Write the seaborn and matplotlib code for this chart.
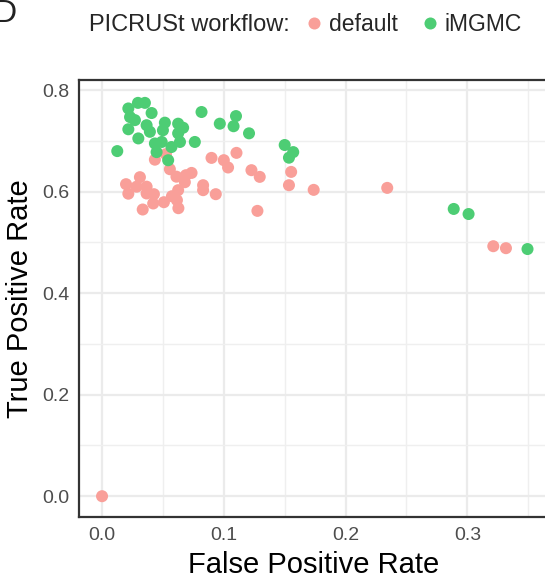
import pandas as pd
import numpy as np
import matplotlib
matplotlib.use('Agg')
import matplotlib.pyplot as plt
from matplotlib.ticker import MultipleLocator
import seaborn as sns

# values
fpr_default = [0.0, 0.0197, 0.0216, 0.0311, 0.0284, 0.0366, 0.0366, 0.0426, 0.0420, 0.0334,
               0.0508, 0.0574, 0.0625, 0.0627, 0.0615, 0.0680, 0.0611, 0.0689, 0.0735, 0.0557,
               0.0434, 0.0525, 0.0830, 0.0830, 0.0934, 0.0899, 0.1000, 0.1035, 0.1104, 0.1227,
               0.1295, 0.1276, 0.1553, 0.1535, 0.1738, 0.2342, 0.3213, 0.3317]
tpr_default = [0.0, 0.6148, 0.5961, 0.6286, 0.6099, 0.6099, 0.5965, 0.5951, 0.5768, 0.5649,
               0.5793, 0.5911, 0.6030, 0.5675, 0.5833, 0.6187, 0.6296, 0.6325, 0.6370, 0.6443,
               0.6631, 0.6739, 0.6128, 0.6030, 0.5951, 0.6666, 0.6621, 0.6477, 0.6765, 0.6424,
               0.6292, 0.5622, 0.6390, 0.6128, 0.6036, 0.6075, 0.4926, 0.4887]
fpr_imgmc = [0.0125, 0.0216, 0.0295, 0.0352, 0.0407, 0.0230, 0.0270, 0.0366, 0.0216, 0.0298,
             0.0393, 0.0516, 0.0500, 0.0490, 0.0625, 0.0666, 0.0625, 0.0640, 0.0570, 0.0448,
             0.0434, 0.0762, 0.0817, 0.0967, 0.1100, 0.1080, 0.1207, 0.0543, 0.1500, 0.1570,
             0.1535, 0.2888, 0.3010, 0.3494]
tpr_imgmc = [0.680, 0.764, 0.775, 0.775, 0.755, 0.747, 0.741, 0.731, 0.723, 0.705,
             0.718, 0.736, 0.721, 0.698, 0.734, 0.726, 0.715, 0.698, 0.688, 0.678,
             0.695, 0.698, 0.757, 0.734, 0.749, 0.729, 0.715, 0.662, 0.692, 0.678,
             0.667, 0.566, 0.556, 0.487]

df = pd.DataFrame({
    'FPR': fpr_default + fpr_imgmc,
    'TPR': tpr_default + tpr_imgmc,
    'workflow': ['default'] * len(fpr_default) + ['iMGMC'] * len(fpr_imgmc),
})

sns.set_style('white')
plt.rcParams['font.family'] = ['Liberation Sans', 'DejaVu Sans']

fig = plt.figure(figsize=(5.45, 5.8), dpi=100)
ax = fig.add_axes([0.145, 0.1086, 0.86, 0.7534])

colors = {'default': '#F99F99', 'iMGMC': '#4DCD74'}
sns.scatterplot(data=df, x='FPR', y='TPR', hue='workflow', palette=colors,
                s=75, linewidth=0, ax=ax, zorder=3)

ax.set_xlim(-0.0189, 0.366)
ax.set_ylim(-0.041, 0.82)
ax.xaxis.set_major_locator(MultipleLocator(0.1))
ax.xaxis.set_minor_locator(MultipleLocator(0.05))
ax.yaxis.set_major_locator(MultipleLocator(0.2))
ax.yaxis.set_minor_locator(MultipleLocator(0.1))
ax.grid(which='major', color='#EBEBEB', linewidth=1.6, zorder=0)
ax.grid(which='minor', color='#EFEFEF', linewidth=1.0, zorder=0)
ax.set_axisbelow(True)

ax.xaxis.set_major_formatter(plt.FuncFormatter(lambda v, p: f'{v:.1f}'))
ax.yaxis.set_major_formatter(plt.FuncFormatter(lambda v, p: f'{v:.1f}'))
ax.tick_params(axis='both', which='major', direction='out', length=4, width=1.1,
               color='#333333', labelcolor='#4D4D4D', labelsize=14, pad=3)
ax.tick_params(axis='both', which='minor', length=0)

for side in ['left', 'bottom', 'top']:
    ax.spines[side].set_color('#333333')
    ax.spines[side].set_linewidth(1.6)
ax.spines['right'].set_visible(False)

ax.set_xlabel('False Positive Rate', fontsize=21, color='black', labelpad=5)
ax.set_ylabel('True Positive Rate', fontsize=21, color='black', labelpad=6)

# legend along the top
sns.move_legend(ax, 'center left', bbox_to_anchor=(0.566, 0.957), bbox_transform=fig.transFigure,
                ncol=2, title=None, frameon=False, fontsize=16.5, markerscale=1.0,
                handletextpad=0.38, columnspacing=1.15, handlelength=0.5,
                borderpad=0, borderaxespad=0)
fig.text(0.163, 0.957, 'PICRUSt workflow:', fontsize=17, va='center', ha='left')
fig.text(-0.012, 0.975, 'D', fontsize=23, va='center', ha='left', color='#222222')

plt.savefig('out.png', dpi=100)
plt.close()
